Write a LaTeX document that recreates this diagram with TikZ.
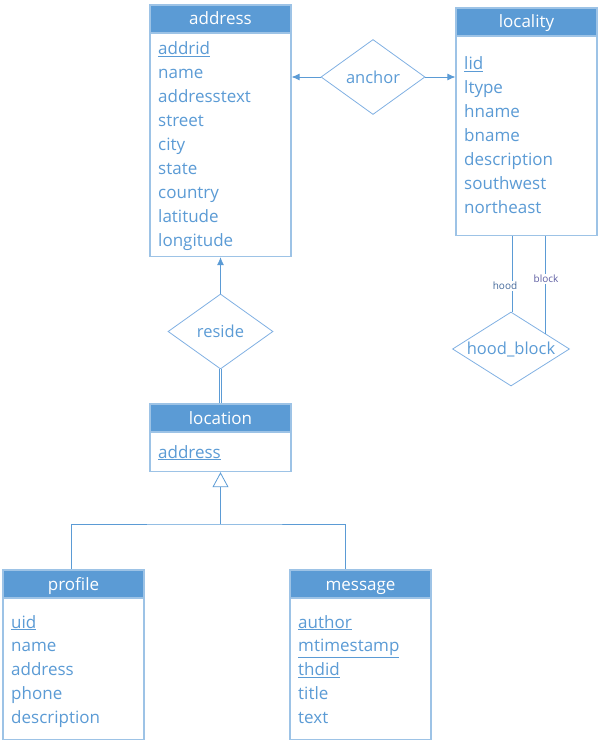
\documentclass[tikz,border=0pt]{standalone}
\usepackage{fontspec}
\setmainfont{Open Sans}
\usetikzlibrary{shapes.geometric,arrows.meta,calc}
\definecolor{hdr}{HTML}{5B9BD5}
\definecolor{txt}{HTML}{5B9BD5}
\definecolor{bord}{HTML}{9DC3E6}
\definecolor{lnk}{HTML}{5B9BD5}
\definecolor{dia}{HTML}{80B0E2}
\definecolor{hoodc}{HTML}{44699B}
\definecolor{blockc}{HTML}{5F5FA3}
\begin{document}
\begin{tikzpicture}[x=1pt,y=-1pt,
  hdrbox/.style={draw=bord, line width=1.2pt, fill=hdr, minimum width=141pt, minimum height=28pt, inner sep=0pt, text height=12pt, text depth=0pt, text=white, font=\fontsize{17}{19}\selectfont},
  bodybox/.style={draw=bord, line width=1.2pt, fill=white, minimum width=141pt, inner sep=0pt, anchor=north},
  attr/.style={anchor=base west, inner sep=0pt, text=txt, font=\fontsize{17}{19}\selectfont},
  rel/.style={draw=dia, shape=diamond, inner sep=0pt, line width=0.8pt},
  reltext/.style={text=txt, inner sep=0pt, font=\fontsize{16.5}{18}\selectfont},
  conn/.style={draw=lnk, line width=0.8pt},
  arr/.style={-{Latex[length=8pt,width=7pt]}},
  rolelbl/.style={fill=white, inner sep=1pt, font=\fontsize{10}{11}\selectfont}]
\useasboundingbox (0,0) rectangle (598,741);

% address
\node[bodybox, minimum height=223pt] (addrbody) at (220.5,33) {};
\node[hdrbox] (addrhead) at (220.5,19) {address};
\foreach \t [count=\i from 0] in {\underline{addrid},name,addresstext,street,city,state,country,latitude,longitude}
  \node[attr] (addr\i) at (158,55+23.9*\i) {\t};

% locality
\node[bodybox, minimum height=199pt] (locybody) at (526.5,36) {};
\node[hdrbox] (locyhead) at (526.5,22) {locality};
\foreach \t [count=\i from 0] in {\underline{lid},ltype,hname,bname,description,southwest,northeast}
  \node[attr] (locy\i) at (464,70+23.9*\i) {\t};

% location
\node[bodybox, minimum height=39pt] (locbody) at (220.5,432) {};
\node[hdrbox] (lochead) at (220.5,418) {location};
\node[attr] (loc0) at (158,458) {\underline{address}};

% profile
\node[bodybox, minimum height=141pt] (profbody) at (73.5,598) {};
\node[hdrbox] (profhead) at (73.5,584) {profile};
\foreach \t [count=\i from 0] in {\underline{uid},name,address,phone,description}
  \node[attr] (prof\i) at (11,628+23.9*\i) {\t};

% message
\node[bodybox, minimum height=141pt] (msgbody) at (360.5,598) {};
\node[hdrbox] (msghead) at (360.5,584) {message};
\foreach \t [count=\i from 0] in {\underline{author},\underline{mtimestamp},\underline{thdid},title,text}
  \node[attr] (msg\i) at (298,628+23.9*\i) {\t};

% relationships
\node[rel, minimum width=104pt, minimum height=75pt] (anchor) at (373,77) {};
\node[reltext] (anchort) at (anchor.center) {anchor};
\node[rel, minimum width=105pt, minimum height=75pt] (reside) at (220.5,331.5) {};
\node[reltext] (residet) at (reside.center) {reside};
\node[rel, minimum width=117pt, minimum height=74pt] (hb) at (511,349) {};
\node[reltext] (hbt) at (hb.center) {hood\_block};

% connectors
\draw[conn,arr] (anchor.west) -- (anchor.west -| addrbody.east);
\draw[conn,arr] (anchor.east) -- (anchor.east -| locybody.west);
\draw[conn,arr] (reside.north) -- (reside.north |- addrbody.south);
\draw[draw=lnk, line width=0.7pt, double=white, double distance=1.4pt] (reside.south) -- (reside.south |- lochead.north);

\coordinate (isajoin) at (220.5,524);
\draw[conn,-{Triangle[open,fill=white,length=15pt,width=16pt]}] (isajoin) -- (locbody.south);
\draw[conn] ([xshift=-2.5pt]profhead.north) |- (isajoin) -| ([xshift=-15.5pt]msghead.north);

\draw[conn] ([xshift=1pt]hb.north) -- ([xshift=1pt]hb.north |- locybody.south);
\coordinate (blockend) at ($(hb.north)!0.586!(hb.east)$);
\draw[conn] (blockend) -- (blockend |- locybody.south);
\node[rolelbl, text=hoodc] (hoodl) at (505,286) {hood};
\node[rolelbl, text=blockc] (blockl) at (546,279) {block};
\end{tikzpicture}
\end{document}
